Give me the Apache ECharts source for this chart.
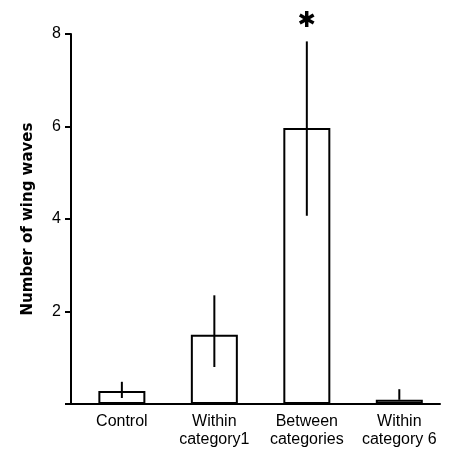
<!DOCTYPE html>
<html><head><meta charset="utf-8">
<script src="https://cdn.jsdelivr.net/npm/echarts@6/dist/echarts.min.js"></script>
<style>html,body{margin:0;padding:0;background:#fff}#c{width:461px;height:457px}</style>
</head><body><div id="c"></div>
<script>
var categories = ['Control', 'Within\ncategory1', 'Between\ncategories', 'Within\ncategory 6'];
var means = [0.28, 1.5, 5.97, 0.09];
var errUpper = [0.48, 2.35, 7.84, 0.32];
var errLower = [0.13, 0.8, 4.07, 0.09];
var significance = ['', '', '*', ''];
var yTicks = [2, 4, 6, 8];

var chart = echarts.init(document.getElementById('c'));
var barData = means.map(function (v, i) { return [i, v]; });
var errData = categories.map(function (c, i) { return [i, errLower[i], errUpper[i], significance[i]]; });
chart.setOption({
  animation: false,
  textStyle: { fontFamily: 'Liberation Sans, Arial, sans-serif' },
  grid: { left: 71, right: 21, top: 34, bottom: 53 },
  xAxis: {
    type: 'value', min: -0.55, max: 3.44,
    splitLine: { show: false },
    axisLine: { show: true, onZero: false, lineStyle: { color: '#000', width: 2 } },
    axisTick: { show: false },
    axisLabel: {
      customValues: [0, 1, 2, 3],
      formatter: function (v) { return categories[Math.round(v)] || ''; },
      color: '#000', fontSize: 16, lineHeight: 18, margin: 9, fontFamily: 'Liberation Sans'
    }
  },
  yAxis: {
    type: 'value', min: 0, max: 8, interval: 2,
    name: 'Number of wing waves', nameLocation: 'middle', nameGap: 35, nameRotate: 90,
    nameTextStyle: { color: '#000', fontSize: 15, fontWeight: 'bold', fontFamily: 'DejaVu Sans' },
    splitLine: { show: false },
    axisLine: { show: true, onZero: false, lineStyle: { color: '#000', width: 2 } },
    axisTick: { show: true, length: 6, lineStyle: { color: '#000', width: 2 } },
    axisLabel: {
      color: '#000', fontSize: 16, margin: 10, fontFamily: 'Liberation Sans',
      formatter: function (v) { return yTicks.indexOf(v) >= 0 ? String(v) : ''; }
    }
  },
  series: [
    {
      type: 'bar', data: barData, barWidth: 47,
      itemStyle: { color: '#fff', borderColor: '#000', borderWidth: 2 }
    },
    {
      type: 'custom', data: errData, z: 10,
      renderItem: function (params, api) {
        var x = api.value(0);
        var lo = api.coord([x, api.value(1)]);
        var hi = api.coord([x, api.value(2)]);
        var children = [{
          type: 'line',
          shape: { x1: lo[0], y1: lo[1], x2: hi[0], y2: hi[1] },
          style: { stroke: '#000', lineWidth: 2 }
        }];
        var s = errData[params.dataIndex][3];
        if (s) {
          children.push({
            type: 'text',
            style: { text: '\u2731', x: hi[0], y: hi[1] - 20, align: 'center', verticalAlign: 'middle',
              font: 'bold 22px DejaVu Sans', fill: '#000' }
          });
        }
        return { type: 'group', children: children };
      }
    }
  ]
});
</script></body></html>
